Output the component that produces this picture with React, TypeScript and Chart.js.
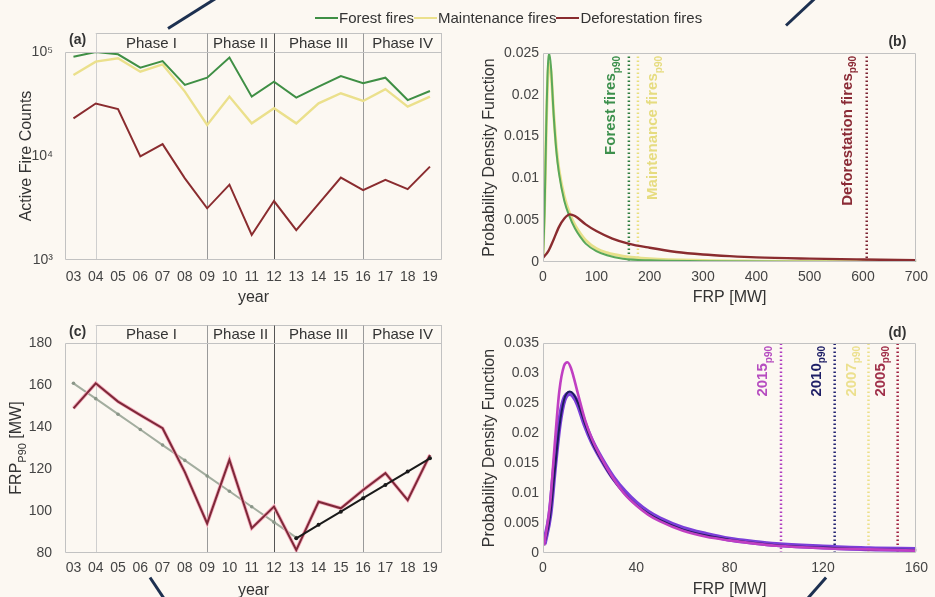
import React, { useEffect, useRef } from "react";
import { Chart, registerables } from "chart.js";
Chart.register(...registerables);

// ---------------- data ----------------
const years = [2003, 2004, 2005, 2006, 2007, 2008, 2009, 2010, 2011, 2012, 2013, 2014, 2015, 2016, 2017, 2018, 2019];
const yearLabels = ["03", "04", "05", "06", "07", "08", "09", "10", "11", "12", "13", "14", "15", "16", "17", "18", "19"];
const forestCounts = [90200, 100000, 95000, 70700, 81800, 48200, 56600, 88300, 37200, 51800, 36400, 46500, 58700, 50000, 56600, 34500, 42200];
const maintenanceCounts = [60000, 80700, 87000, 64600, 76000, 41600, 19900, 37300, 20600, 28800, 20600, 32100, 40100, 33800, 44000, 29800, 37200];
const deforestationCounts = [23000, 32000, 28300, 9900, 13000, 6100, 3140, 5300, 1740, 3690, 1940, 3470, 6200, 4700, 5900, 4800, 7900];
const countTickValues = [1000, 10000, 100000];
const countTickLabels = ["10³", "10⁴", "10⁵"];
const phaseStarts = [2004, 2009, 2012, 2016];
const phaseNames = ["Phase I", "Phase II", "Phase III", "Phase IV"];

const frpP90 = [148.9, 160.8, 152.1, 145.7, 139.4, 118.5, 94.1, 124.3, 91.8, 102.1, 81.4, 104.4, 101.3, 110.0, 118.0, 105.2, 126.7];
const trendYearsEarly = [2003, 2004, 2005, 2006, 2007, 2008, 2009, 2010, 2011, 2012, 2013];
const trendEarly = [160.8, 153.5, 146.1, 138.8, 131.4, 124.1, 116.7, 109.4, 102.0, 94.7, 87.3];
const trendYearsLate = [2013, 2014, 2015, 2016, 2017, 2018, 2019];
const trendLate = [87.0, 93.4, 99.7, 106.1, 112.4, 118.8, 125.1];

const forestPdfFrp = [0, 3, 6, 9, 12, 15, 20, 25, 30, 40, 50, 60, 70, 80, 100, 120, 150, 200, 300, 400, 500, 700];
const forestPdf = [0.0005, 0.006, 0.016, 0.0232, 0.0249, 0.0233, 0.0176, 0.0133, 0.0106, 0.0073, 0.0054, 0.004, 0.003, 0.0022, 0.0013, 0.0008, 0.0004, 0.0002, 0.0001, 0.00005, 0.00003, 0.00001];
const maintPdfFrp = [0, 3, 6, 9, 12, 15, 20, 25, 30, 40, 50, 60, 70, 80, 100, 120, 150, 200, 300, 400, 500, 700];
const maintPdf = [0.0008, 0.0068, 0.0158, 0.022, 0.0238, 0.0228, 0.0178, 0.0137, 0.011, 0.0078, 0.0058, 0.0044, 0.0034, 0.0026, 0.0016, 0.0011, 0.0007, 0.0004, 0.00018, 0.0001, 0.00006, 0.00003];
const deforPdfFrp = [0, 10, 20, 30, 40, 50, 60, 80, 100, 130, 160, 200, 250, 300, 350, 400, 500, 600, 700];
const deforPdf = [0.0005, 0.0013, 0.0027, 0.0042, 0.0052, 0.0057, 0.0055, 0.0045, 0.0037, 0.0028, 0.0022, 0.0017, 0.0012, 0.0009, 0.0007, 0.00055, 0.0004, 0.0003, 0.00022];
const typeP90Names = ["Forest fires", "Maintenance fires", "Deforestation fires"];
const typeP90Values = [161, 178, 607];

const pdf2015Frp = [0.5, 3, 5, 7, 9, 10.5, 12, 15, 18, 21, 25, 30, 35, 40, 45, 50, 60, 70, 80, 90, 100, 120, 140, 160];
const pdf2015 = [0.0013, 0.008, 0.018, 0.027, 0.0312, 0.0318, 0.0308, 0.0265, 0.0222, 0.019, 0.0158, 0.0125, 0.0098, 0.0079, 0.0064, 0.0053, 0.0037, 0.0027, 0.0021, 0.0016, 0.0012, 0.0008, 0.0006, 0.0004];
const pdf2010Frp = [0.5, 3, 5, 7, 9, 11.5, 13, 15, 18, 21, 25, 30, 35, 40, 45, 50, 60, 70, 80, 90, 100, 120, 140, 160];
const pdf2010 = [0.0013, 0.006, 0.0135, 0.021, 0.0255, 0.0269, 0.0265, 0.025, 0.0215, 0.0185, 0.0155, 0.0123, 0.0099, 0.008, 0.0066, 0.0055, 0.0039, 0.0029, 0.0022, 0.0017, 0.0013, 0.0009, 0.0006, 0.0005];
const pdfOtherFrp = [0.5, 3, 5, 7, 9, 11.5, 13, 15, 18, 21, 25, 30, 35, 40, 45, 50, 60, 70, 80, 90, 100, 120, 140, 160];
const pdfOther = [0.0015, 0.0065, 0.0145, 0.0215, 0.0255, 0.0266, 0.0262, 0.0248, 0.0214, 0.0186, 0.0157, 0.0126, 0.0102, 0.0083, 0.0068, 0.0057, 0.0041, 0.0031, 0.0023, 0.0018, 0.0014, 0.001, 0.0007, 0.0006];
const yearP90Names = ["2015", "2010", "2007", "2005"];
const yearP90Values = [102, 125, 139.5, 152];

// ---------------- styles ----------------
const FONT = "'Liberation Sans', Arial, Helvetica, sans-serif";
const BG = "#fcf8f2";
const TXT = "#333333";
const TICK = "#444444";
const BOX = "#c2c2c2";
const COL = {
  forest: "#3f8f45",
  maint: "#ebe08c",
  defor: "#8a2c2f",
  forestPdf: "#5aa85a",
  maintPdf: "#e6e08a",
  frpDark: "#7e2838",
  frpHalo: "#f2aabb",
  trendGray: "#a3ad9f",
  trendBlack: "#1a1a1a",
  y2015: "#c03fc2",
  y2010: "#1d1d5c",
  yOther: "#7b3fd9",
};
const phaseLineColors = ["#cfcfcf", "#9a9a9a", "#555555", "#9a9a9a"];
const typeLabelStyles = [
  { color: "#3c8f4c", line: "#2e7d3e", offset: -18 },
  { color: "#e6dc80", line: "#e9df80", offset: 15 },
  { color: "#8a2a35", line: "#7b2231", offset: -19 },
];
const yearLabelStyles = [
  { color: "#b64dc0", line: "#b040c0", offset: -18 },
  { color: "#1f1f66", line: "#202070", offset: -18 },
  { color: "#ece08e", line: "#ece08a", offset: -17 },
  { color: "#a0304a", line: "#a02040", offset: -17 },
];

const xy = (xs: number[], ys: number[]) => xs.map((x, i) => ({ x, y: ys[i] }));
const vline = (v: number, lo: number, hi: number) => [{ x: v, y: lo }, { x: v, y: hi }];

type Seg = { text: string; font: string; color: string; dy: number };
function drawRotated(ctx: CanvasRenderingContext2D, x: number, y: number, segs: Seg[], align: "end" | "center") {
  ctx.save();
  ctx.translate(x, y);
  ctx.rotate(-Math.PI / 2);
  let total = 0;
  const widths = segs.map((s) => {
    ctx.font = s.font;
    const w = ctx.measureText(s.text).width;
    total += w;
    return w;
  });
  let start = align === "end" ? -total : -total / 2;
  ctx.textBaseline = "middle";
  ctx.textAlign = "left";
  segs.forEach((s, i) => {
    ctx.font = s.font;
    ctx.fillStyle = s.color;
    ctx.fillText(s.text, start, s.dy);
    start += widths[i];
  });
  ctx.restore();
}

const boxPlugin = (bandH: number) => ({
  id: "box",
  afterDatasetsDraw(chart: any) {
    const { ctx, chartArea: a } = chart;
    ctx.save();
    ctx.strokeStyle = BOX;
    ctx.lineWidth = 1;
    const L = Math.round(a.left) + 0.5, R = Math.round(a.right) - 0.5, T = Math.round(a.top) + 0.5, B = Math.round(a.bottom) - 0.5;
    ctx.beginPath();
    ctx.moveTo(L, T); ctx.lineTo(L, B); ctx.lineTo(R, B); ctx.lineTo(R, T - bandH);
    ctx.moveTo(L, T); ctx.lineTo(R, T);
    ctx.stroke();
    ctx.restore();
  },
});

const phasePlugin = (bandH: number, tag: string) => ({
  id: "phases",
  beforeDatasetsDraw(chart: any) {
    const { ctx, chartArea: a, scales } = chart;
    const x = scales.x;
    const top = Math.round(a.top - bandH) + 0.5;
    ctx.save();
    ctx.lineWidth = 1;
    ctx.strokeStyle = BOX;
    ctx.beginPath();
    ctx.moveTo(x.getPixelForValue(phaseStarts[0]), top);
    ctx.lineTo(a.right, top);
    ctx.stroke();
    phaseStarts.forEach((p, i) => {
      const px = Math.round(x.getPixelForValue(p)) + 0.5;
      ctx.strokeStyle = phaseLineColors[i];
      ctx.beginPath();
      ctx.moveTo(px, a.bottom);
      ctx.lineTo(px, top);
      ctx.stroke();
    });
    ctx.fillStyle = TXT;
    ctx.font = `15px ${FONT}`;
    ctx.textAlign = "center";
    ctx.textBaseline = "middle";
    phaseNames.forEach((n, i) => {
      const l = x.getPixelForValue(phaseStarts[i]);
      const r = i + 1 < phaseStarts.length ? x.getPixelForValue(phaseStarts[i + 1]) : a.right;
      ctx.fillText(n, (l + r) / 2, a.top - bandH / 2 + 1);
    });
    ctx.font = `bold 14px ${FONT}`;
    ctx.textAlign = "left";
    ctx.fillText(tag, a.left + 4, a.top - bandH / 2 - 2);
    ctx.restore();
  },
});

const tagPlugin = (tag: string, dy: number) => ({
  id: "tag",
  afterDraw(chart: any) {
    const { ctx, chartArea: a } = chart;
    ctx.save();
    ctx.fillStyle = TXT;
    ctx.font = `bold 14px ${FONT}`;
    ctx.textAlign = "right";
    ctx.textBaseline = "middle";
    ctx.fillText(tag, a.right - 10, a.top - dy);
    ctx.restore();
  },
});

const p90Plugin = (names: string[], values: number[], styles: { color: string; offset: number }[]) => ({
  id: "p90labels",
  afterDatasetsDraw(chart: any) {
    const { ctx, chartArea: a, scales } = chart;
    names.forEach((n, i) => {
      const st = styles[i];
      const px = scales.x.getPixelForValue(values[i]) + st.offset;
      drawRotated(ctx, px, a.top + 3, [
        { text: n, font: `bold 15px ${FONT}`, color: st.color, dy: 0 },
        { text: "p90", font: `bold 10px ${FONT}`, color: st.color, dy: 6 },
      ], "end");
    });
  },
});

const frpTitlePlugin = {
  id: "frpTitle",
  afterDraw(chart: any) {
    const { ctx, chartArea: a } = chart;
    drawRotated(ctx, 17, (a.top + a.bottom) / 2, [
      { text: "FRP", font: `16px ${FONT}`, color: TXT, dy: 0 },
      { text: "P90", font: `11px ${FONT}`, color: TXT, dy: 6 },
      { text: " [MW]", font: `16px ${FONT}`, color: TXT, dy: 0 },
    ], "center");
  },
};

const tickFont = { size: 14, family: FONT };
const titleFont = { size: 16, family: FONT };

function yearAxis(height: number, tickPad: number, titlePad: number) {
  return {
    type: "linear",
    min: 2002.62,
    max: 2019.54,
    afterBuildTicks: (s: any) => { s.ticks = years.map((value) => ({ value })); },
    afterFit: (s: any) => { s.height = height; },
    ticks: { autoSkip: false, maxRotation: 0, padding: tickPad, font: tickFont, color: TICK, callback: (_v: any, i: number) => yearLabels[i] },
    grid: { display: false, drawTicks: false },
    border: { display: false },
    title: { display: true, text: "year", color: TXT, font: titleFont, padding: { top: 0, bottom: titlePad } },
  };
}

function linAxis(min: number, max: number, step: number, size: number, tickPad: number, title: string, titlePad: any, isX: boolean) {
  return {
    type: "linear",
    min, max,
    afterFit: (s: any) => { if (isX) s.height = size; else s.width = size; },
    ticks: {
      stepSize: step, autoSkip: false, maxRotation: 0, padding: tickPad, font: tickFont, color: TICK,
      callback: (v: any) => String(Number(Number(v).toFixed(4))),
    },
    grid: { display: false, drawTicks: false },
    border: { display: false },
    title: { display: title !== "", text: title, color: TXT, font: titleFont, padding: titlePad },
  };
}

const baseOptions = (padding: any, scales: any) => ({
  animation: false,
  responsive: false,
  events: [],
  layout: { padding },
  plugins: { legend: { display: false }, tooltip: { enabled: false } },
  elements: { point: { radius: 0 } },
  scales,
});

function makeA(canvas: HTMLCanvasElement) {
  return new Chart(canvas, {
    type: "line",
    data: {
      datasets: [
        { label: "Forest fires", data: xy(years, forestCounts), borderColor: COL.forest, borderWidth: 2, pointRadius: 0 },
        { label: "Maintenance fires", data: xy(years, maintenanceCounts), borderColor: COL.maint, borderWidth: 2.4, pointRadius: 0 },
        { label: "Deforestation fires", data: xy(years, deforestationCounts), borderColor: COL.defor, borderWidth: 2, pointRadius: 0 },
      ],
    },
    options: baseOptions({ left: 0, top: 52, right: 25, bottom: 0 }, {
      x: yearAxis(50, 9, 3),
      y: {
        type: "logarithmic",
        min: 1000,
        max: 100000,
        afterBuildTicks: (s: any) => { s.ticks = countTickValues.map((value) => ({ value })); },
        afterFit: (s: any) => { s.width = 65; },
        ticks: { autoSkip: false, padding: 12, font: tickFont, color: TICK, callback: (_v: any, i: number) => countTickLabels[i] },
        grid: { display: false, drawTicks: false },
        border: { display: false },
        title: { display: true, text: "Active Fire Counts", color: TXT, font: titleFont, padding: { top: 17, bottom: 0 } },
      },
    }) as any,
    plugins: [phasePlugin(19, "(a)"), boxPlugin(19)],
  });
}

function makeB(canvas: HTMLCanvasElement) {
  return new Chart(canvas, {
    type: "line",
    data: {
      datasets: [
        { label: "Deforestation fires", data: xy(deforPdfFrp, deforPdf), borderColor: COL.defor, borderWidth: 2.4, cubicInterpolationMode: "monotone", pointRadius: 0 },
        { label: "Forest fires", data: xy(forestPdfFrp, forestPdf), borderColor: COL.forestPdf, borderWidth: 2, cubicInterpolationMode: "monotone", pointRadius: 0 },
        { label: "Maintenance fires", data: xy(maintPdfFrp, maintPdf), borderColor: COL.maintPdf, borderWidth: 3, cubicInterpolationMode: "monotone", pointRadius: 0 },
        ...typeP90Values.map((v, i) => ({ label: typeP90Names[i] + " p90", data: vline(v, 0, 0.025), borderColor: typeLabelStyles[i].line, borderWidth: 2.5, borderDash: [1.5, 2.5], pointRadius: 0 })),
      ],
    },
    options: baseOptions({ left: 0, top: 53, right: 15, bottom: 0 }, {
      x: linAxis(0, 700, 100, 48, 7, "FRP [MW]", { top: 0, bottom: 3 }, true),
      y: linAxis(0, 0.025, 0.005, 76, 4, "Probability Density Function", { top: 13, bottom: 0 }, false),
    }) as any,
    plugins: [boxPlugin(0), p90Plugin(typeP90Names, typeP90Values, typeLabelStyles), tagPlugin("(b)", 11)],
  });
}

function makeC(canvas: HTMLCanvasElement) {
  return new Chart(canvas, {
    type: "line",
    data: {
      datasets: [
        { label: "trend 2013-2019", data: xy(trendYearsLate, trendLate), borderColor: COL.trendBlack, borderWidth: 2, pointRadius: 2, pointBackgroundColor: COL.trendBlack, pointBorderWidth: 0 },
        { label: "FRP p90", data: xy(years, frpP90), borderColor: COL.frpDark, borderWidth: 2, pointRadius: 0 },
        { label: "FRP p90 halo", data: xy(years, frpP90), borderColor: COL.frpHalo, borderWidth: 3.6, pointRadius: 0 },
        { label: "trend 2003-2013", data: xy(trendYearsEarly, trendEarly), borderColor: COL.trendGray, borderWidth: 2, pointRadius: 1.8, pointBackgroundColor: "#8a9688", pointBorderWidth: 0 },
      ],
    },
    options: baseOptions({ left: 0, top: 43, right: 25, bottom: 0 }, {
      x: yearAxis(47, 7, 0),
      y: { ...linAxis(80, 180, 20, 65, 13, "", {}, false) },
    }) as any,
    plugins: [phasePlugin(18, "(c)"), boxPlugin(18), frpTitlePlugin],
  });
}

function makeD(canvas: HTMLCanvasElement) {
  return new Chart(canvas, {
    type: "line",
    data: {
      datasets: [
        { label: "2015", data: xy(pdf2015Frp, pdf2015), borderColor: COL.y2015, borderWidth: 2.6, cubicInterpolationMode: "monotone", pointRadius: 0 },
        { label: "2010", data: xy(pdf2010Frp, pdf2010), borderColor: COL.y2010, borderWidth: 2, cubicInterpolationMode: "monotone", pointRadius: 0 },
        { label: "other years", data: xy(pdfOtherFrp, pdfOther), borderColor: COL.yOther, borderWidth: 5, cubicInterpolationMode: "monotone", pointRadius: 0 },
        ...yearP90Values.map((v, i) => ({ label: yearP90Names[i] + " p90", data: vline(v, 0, 0.035), borderColor: yearLabelStyles[i].line, borderWidth: 2.5, borderDash: [1.5, 2.5], pointRadius: 0 })),
      ],
    },
    options: baseOptions({ left: 0, top: 43, right: 15, bottom: 0 }, {
      x: linAxis(0, 160, 40, 47, 7, "FRP [MW]", { top: 0, bottom: 1 }, true),
      y: linAxis(0, 0.035, 0.005, 76, 4, "Probability Density Function", { top: 13, bottom: 0 }, false),
    }) as any,
    plugins: [boxPlugin(0), p90Plugin(yearP90Names, yearP90Values, yearLabelStyles), tagPlugin("(d)", 10)],
  });
}

const slashes = [
  [168, 28, 222, -6],
  [786, 25, 817, -4],
  [150, 577, 166, 601],
  [805, 601, 826, 577],
];

const legendItems = [
  { name: "Forest fires", color: COL.forest },
  { name: "Maintenance fires", color: COL.maint },
  { name: "Deforestation fires", color: COL.defor },
];

export default function App() {
  const refA = useRef<HTMLCanvasElement>(null);
  const refB = useRef<HTMLCanvasElement>(null);
  const refC = useRef<HTMLCanvasElement>(null);
  const refD = useRef<HTMLCanvasElement>(null);

  useEffect(() => {
    Chart.defaults.font.family = FONT;
    const charts = [makeA(refA.current!), makeB(refB.current!), makeC(refC.current!), makeD(refD.current!)];
    return () => charts.forEach((c) => c.destroy());
  }, []);

  const cv = (left: number, top: number): React.CSSProperties => ({ position: "absolute", left, top, display: "block" });

  return (
    <div style={{ position: "fixed", left: 0, top: 0, width: 935, height: 597, overflow: "hidden", background: BG, fontFamily: FONT }}>
      <canvas ref={refA} width={467} height={310} style={cv(0, 0)} />
      <canvas ref={refB} width={468} height={310} style={cv(467, 0)} />
      <canvas ref={refC} width={467} height={300} style={cv(0, 300)} />
      <canvas ref={refD} width={468} height={300} style={cv(467, 300)} />
      <div style={{ position: "absolute", left: 315, top: 9, display: "flex", alignItems: "center", fontSize: 15, color: TXT, lineHeight: "18px", whiteSpace: "nowrap" }}>
        {legendItems.map((it) => (
          <React.Fragment key={it.name}>
            <span style={{ display: "inline-block", width: 23, height: 2, background: it.color, marginRight: 1 }} />
            <span>{it.name}</span>
          </React.Fragment>
        ))}
      </div>
      {slashes.map(([x1, y1, x2, y2], i) => {
        const len = Math.hypot(x2 - x1, y2 - y1);
        const ang = (Math.atan2(y2 - y1, x2 - x1) * 180) / Math.PI;
        return (
          <div key={i} style={{ position: "absolute", left: x1, top: y1 - 1.5, width: len, height: 3, background: "#1d3050", transformOrigin: "0 50%", transform: `rotate(${ang}deg)` }} />
        );
      })}
    </div>
  );
}
